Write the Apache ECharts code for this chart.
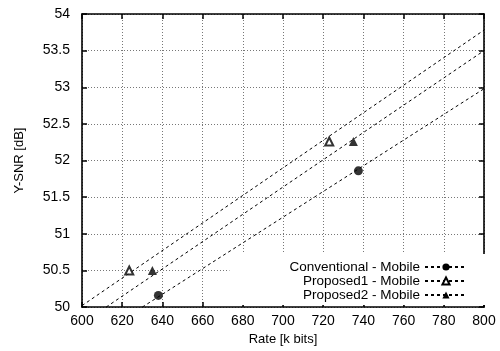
<!DOCTYPE html>
<html>
<head>
<meta charset="utf-8">
<script src="https://cdn.jsdelivr.net/npm/echarts@6/dist/echarts.min.js"></script>
<style>
  html, body { margin: 0; padding: 0; background: #fff; }
  #chart { width: 500px; height: 351px; }
</style>
</head>
<body>
<div id="chart"></div>
<script>
// measured points
const convPoints = [[638, 50.16], [737.5, 51.86]];
const prop1Points = [[623.5, 50.5], [723, 52.26]];
const prop2Points = [[635, 50.5], [735, 52.26]];

// fitted lines (end points)
const convFit = [[630, 50], [800, 52.98]];
const prop1Fit = [[600, 50.02], [800, 53.78]];
const prop2Fit = [[612, 50], [800, 53.5]];

const seriesNames = ['Conventional - Mobile', 'Proposed1 - Mobile', 'Proposed2 - Mobile'];

const font = 'Liberation Sans, Arial, sans-serif';
const chart = echarts.init(document.getElementById('chart'));

function fitLine(name, data, symbol) {
  return {
    name: name, type: 'line', data: data, symbol: symbol, showSymbol: false,
    silent: true, color: '#000',
    lineStyle: { color: '#000', width: 1, type: [3, 3] },
    z: 2
  };
}
function points(name, data, symbol, size) {
  return {
    name: name, type: 'scatter', data: data, symbol: symbol, symbolSize: size,
    itemStyle: { color: '#000', borderColor: '#333', borderWidth: symbol === 'emptyTriangle' ? 0.8 : 0 },
    z: 3
  };
}

const axisCommon = {
  type: 'value',
  axisLine: { show: true, lineStyle: { color: '#000', width: 1.6 } },
  axisTick: { show: true, inside: true, length: 5, lineStyle: { color: '#000', width: 1.5 } }
};

chart.setOption({
  animation: false,
  backgroundColor: '#fff',
  grid: { left: 82, right: 16, top: 14, bottom: 43, show: false },
  legend: {
    data: seriesNames,
    orient: 'vertical',
    align: 'right',
    right: 14,
    bottom: 46,
    itemWidth: 42,
    itemHeight: 9,
    itemGap: 0,
    padding: [6, 18, 3, 60],
    backgroundColor: '#fff',
    textStyle: { fontFamily: font, fontSize: 13.5, color: '#000', lineHeight: 14 },
    z: 4
  },
  xAxis: [
    Object.assign({}, axisCommon, {
      min: 600, max: 800, interval: 20,
      name: 'Rate [k bits]', nameLocation: 'middle', nameGap: 25,
      nameTextStyle: { fontFamily: font, fontSize: 13, color: '#000' },
      axisLabel: { fontFamily: font, fontSize: 14, color: '#000', margin: 7 },
      splitLine: { show: true, lineStyle: { color: '#777', width: 1, type: [1, 2] } }
    }),
    Object.assign({}, axisCommon, {
      position: 'top', min: 600, max: 800, interval: 20,
      axisLabel: { show: false }, splitLine: { show: false }
    })
  ],
  yAxis: [
    Object.assign({}, axisCommon, {
      min: 50, max: 54, interval: 0.5,
      name: 'Y-SNR [dB]', nameLocation: 'middle', nameGap: 56, nameRotate: 90,
      nameTextStyle: { fontFamily: font, fontSize: 13, color: '#000' },
      axisLabel: { fontFamily: font, fontSize: 14, color: '#000', margin: 12 },
      splitLine: { show: true, lineStyle: { color: '#777', width: 1, type: [1, 2] } }
    }),
    Object.assign({}, axisCommon, {
      position: 'right', min: 50, max: 54, interval: 0.5,
      axisLabel: { show: false }, splitLine: { show: false }
    })
  ],
  series: [
    fitLine(seriesNames[0], convFit, 'circle'),
    fitLine(seriesNames[1], prop1Fit, 'emptyTriangle'),
    fitLine(seriesNames[2], prop2Fit, 'triangle'),
    points(seriesNames[0], convPoints, 'circle', 9),
    points(seriesNames[1], prop1Points, 'emptyTriangle', 8),
    points(seriesNames[2], prop2Points, 'triangle', 9)
  ]
});
</script>
</body>
</html>
